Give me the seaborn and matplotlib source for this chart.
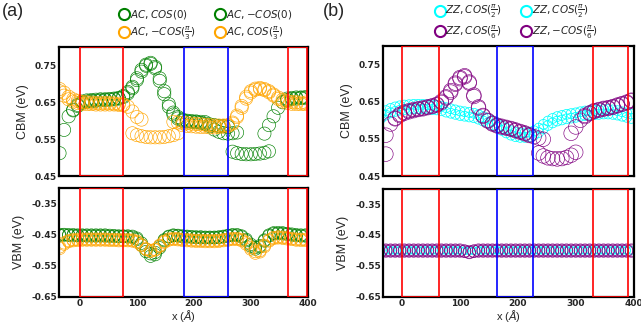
import numpy as np
import pandas as pd
import matplotlib
matplotlib.use('Agg')
import matplotlib.pyplot as plt
import seaborn as sns
from matplotlib.patches import Rectangle
from matplotlib.lines import Line2D

sns.set_style('white')
plt.rcParams['font.family'] = ['DejaVu Sans']
plt.rcParams['axes.unicode_minus'] = False

nan = np.nan
x = np.arange(-36, 400, 8)   # sampling positions along the ribbon (Angstrom)

# ---- panel (a), armchair ----
ac_cos0_cbm = [nan, 0.575, 0.612, 0.630, 0.643, 0.652, 0.655, 0.656, 0.657, 0.658, 0.658,
               0.659, 0.660, 0.662, 0.667, 0.678, 0.692, 0.715, 0.738, 0.752, 0.757, 0.742,
               0.708, 0.672, 0.638, 0.617, 0.606, 0.600, 0.598, 0.597, 0.596, 0.594, 0.592,
               0.590, 0.588, 0.586, 0.585, 0.583, 0.516, 0.512, 0.510, 0.509, 0.509, 0.510,
               0.511, 0.513, 0.517, nan, nan, nan, 0.660, 0.662, 0.663, 0.663, 0.664]
ac_mcos0_cbm = [0.512, nan, nan, 0.628, 0.640, 0.649, 0.652, 0.653, 0.654, 0.655, 0.656,
                0.657, 0.658, 0.660, 0.664, 0.674, 0.688, 0.710, 0.733, 0.749, 0.754, 0.746,
                0.715, 0.680, 0.645, 0.622, 0.610, 0.603, 0.600, 0.599, 0.598, 0.597, 0.596,
                0.585, 0.576, 0.570, 0.566, 0.565, 0.566, 0.568, nan, nan, nan, nan,
                nan, 0.565, 0.588, 0.612, 0.635, 0.650, 0.656, 0.659, 0.660, 0.661, 0.661]
ac_mcos3_cbm = [0.686, 0.676, 0.665, 0.658, 0.654, 0.651, 0.650, 0.649, 0.648, 0.648, 0.648,
                0.648, 0.647, 0.646, 0.644, 0.638, 0.625, 0.610, 0.603, nan, nan, nan,
                nan, nan, nan, 0.597, 0.595, 0.594, 0.593, 0.592, 0.591, 0.590, 0.589,
                0.588, 0.587, 0.587, 0.587, 0.588, 0.595, 0.614, 0.640, 0.665, 0.680, 0.687,
                0.689, 0.686, 0.680, 0.671, 0.663, 0.657, 0.653, 0.651, 0.650, 0.649, 0.649]
ac_cos3_cbm = [0.680, 0.668, 0.658, 0.652, 0.648, 0.646, 0.645, 0.645, 0.644, 0.644, 0.644,
               0.644, 0.644, 0.643, 0.642, nan, 0.566, 0.561, 0.558, 0.556, 0.555, 0.555,
               0.555, 0.556, 0.558, 0.561, 0.566, 0.588, 0.586, 0.585, 0.584, 0.583, 0.583,
               0.582, 0.582, 0.583, 0.584, 0.586, 0.592, 0.610, 0.635, 0.660, 0.676, 0.684,
               0.686, 0.683, 0.677, 0.668, 0.659, 0.652, 0.648, 0.646, 0.645, 0.645, 0.645]

ac_cos0_vbm = [-0.450, -0.450, -0.451, -0.451, -0.452, -0.452, -0.452, -0.452, -0.452, -0.452, -0.452,
               -0.453, -0.454, -0.455, -0.455, -0.455, -0.456, -0.462, -0.478, -0.498, -0.512, -0.508,
               -0.488, -0.467, -0.456, -0.452, -0.453, -0.455, -0.456, -0.457, -0.458, -0.458, -0.459,
               -0.459, -0.459, -0.458, -0.456, -0.453, -0.451, -0.451, -0.455, -0.466, -0.482, -0.492,
               -0.486, -0.468, -0.452, -0.445, -0.444, -0.445, -0.447, -0.449, -0.451, -0.452, -0.452]
ac_mcos0_vbm = [-0.453, -0.452, -0.453, -0.454, -0.454, -0.454, -0.455, -0.455, -0.455, -0.455, -0.455,
                -0.456, -0.456, -0.457, -0.457, -0.458, -0.459, -0.466, -0.484, -0.505, -0.520, -0.515,
                -0.493, -0.470, -0.458, -0.454, -0.455, -0.457, -0.458, -0.459, -0.460, -0.461, -0.461,
                -0.461, -0.461, -0.460, -0.458, -0.455, -0.453, -0.453, -0.458, -0.470, -0.487, -0.497,
                -0.490, -0.471, -0.455, -0.448, -0.447, -0.448, -0.450, -0.452, -0.454, -0.455, -0.455]
ac_mcos3_vbm = [-0.490, -0.477, -0.470, -0.467, -0.466, -0.465, -0.465, -0.465, -0.465, -0.465, -0.465,
                -0.466, -0.466, -0.467, -0.467, -0.467, -0.468, -0.472, -0.483, -0.496, -0.502, -0.498,
                -0.485, -0.472, -0.465, -0.463, -0.464, -0.466, -0.467, -0.468, -0.469, -0.469, -0.470,
                -0.470, -0.470, -0.469, -0.467, -0.465, -0.463, -0.463, -0.466, -0.476, -0.492, -0.505,
                -0.502, -0.485, -0.468, -0.460, -0.458, -0.459, -0.461, -0.463, -0.465, -0.466, -0.466]
ac_cos3_vbm = [-0.495, -0.481, -0.473, -0.470, -0.469, -0.468, -0.468, -0.468, -0.468, -0.468, -0.468,
               -0.469, -0.469, -0.470, -0.470, -0.470, -0.471, -0.475, -0.486, -0.498, -0.504, -0.500,
               -0.488, -0.475, -0.468, -0.466, -0.467, -0.469, -0.470, -0.471, -0.472, -0.472, -0.473,
               -0.473, -0.473, -0.472, -0.470, -0.468, -0.466, -0.466, -0.470, -0.481, -0.497, -0.510,
               -0.506, -0.489, -0.471, -0.463, -0.461, -0.462, -0.464, -0.466, -0.468, -0.469, -0.469]

# ---- panel (b), zigzag ----
zz_cos2a_cbm = [0.618, 0.626, 0.632, 0.636, 0.639, 0.641, 0.642, 0.643, 0.643, 0.643, 0.642,
                0.641, 0.640, 0.638, 0.634, 0.631, 0.628, 0.625, 0.623, 0.621, 0.619, 0.615,
                0.610, 0.605, 0.599, 0.593, 0.585, 0.578, 0.572, 0.568, 0.566, 0.566, 0.568,
                0.572, 0.579, 0.589, 0.598, 0.605, 0.610, 0.613, 0.616, 0.618, 0.620, 0.623,
                0.625, 0.626, 0.627, 0.628, 0.629, 0.629, 0.628, 0.626, 0.623, 0.620, 0.617]
zz_cos2b_cbm = [0.606, 0.614, 0.620, 0.624, 0.627, 0.629, 0.630, 0.631, 0.631, 0.631, 0.630,
                0.629, 0.628, 0.626, 0.622, 0.619, 0.616, 0.613, 0.611, 0.609, 0.607, 0.603,
                0.598, 0.593, 0.587, 0.581, 0.573, 0.566, 0.560, 0.556, 0.554, 0.554, 0.556,
                0.560, 0.567, 0.577, 0.586, 0.593, 0.598, 0.601, 0.604, 0.606, 0.608, 0.611,
                0.613, 0.614, 0.615, 0.616, 0.617, 0.617, 0.616, 0.614, 0.611, 0.608, 0.605]
zz_cos6_cbm = [nan, 0.509, nan, 0.606, 0.616, 0.622, 0.626, 0.629, 0.631, 0.633, 0.636,
               0.639, 0.643, 0.651, 0.663, 0.680, 0.700, 0.715, 0.720, 0.703, 0.668, 0.636,
               0.613, 0.600, 0.592, 0.587, 0.584, 0.581, 0.578, 0.574, 0.570, 0.566, 0.561,
               0.556, 0.552, 0.549, nan, nan, nan, nan, nan, 0.565, 0.582, 0.600,
               0.613, 0.620, 0.626, 0.629, 0.632, 0.634, 0.637, 0.641, 0.645, 0.649, 0.654]
zz_mcos6_cbm = [nan, 0.560, 0.590, 0.604, 0.613, 0.619, 0.623, 0.626, 0.629, 0.631, 0.634,
                0.637, 0.641, 0.648, 0.660, 0.676, 0.697, 0.712, 0.717, 0.700, 0.664, 0.633,
                0.611, 0.598, 0.590, 0.585, 0.582, 0.579, 0.576, 0.572, 0.568, 0.564, 0.559,
                nan, 0.512, 0.504, 0.499, 0.497, 0.496, 0.497, 0.500, 0.506, 0.514, nan,
                0.610, 0.618, 0.624, 0.627, 0.630, 0.632, 0.635, 0.639, 0.643, 0.647, 0.652]

zz_cos2a_vbm = [-0.499, -0.499, -0.499, -0.499, -0.499, -0.499, -0.499, -0.499, -0.499, -0.499, -0.499,
                -0.499, -0.499, -0.499, -0.499, -0.499, -0.499, -0.499, -0.501, -0.503, -0.501, -0.499,
                -0.499, -0.499, -0.499, -0.499, -0.499, -0.499, -0.499, -0.499, -0.499, -0.499, -0.499,
                -0.499, -0.499, -0.499, -0.499, -0.499, -0.499, -0.499, -0.499, -0.499, -0.499, -0.499,
                -0.499, -0.499, -0.499, -0.499, -0.499, -0.499, -0.499, -0.499, -0.499, -0.499, -0.499]
zz_cos2b_vbm = [-0.501, -0.501, -0.501, -0.501, -0.501, -0.501, -0.501, -0.501, -0.501, -0.501, -0.501,
                -0.501, -0.501, -0.501, -0.501, -0.501, -0.501, -0.501, -0.501, -0.500, -0.501, -0.501,
                -0.501, -0.501, -0.501, -0.501, -0.501, -0.501, -0.501, -0.501, -0.501, -0.501, -0.501,
                -0.501, -0.501, -0.501, -0.501, -0.501, -0.501, -0.501, -0.501, -0.501, -0.501, -0.501,
                -0.501, -0.501, -0.501, -0.501, -0.501, -0.501, -0.501, -0.501, -0.501, -0.501, -0.501]
zz_cos6_vbm = [-0.499, -0.499, -0.499, -0.499, -0.499, -0.499, -0.499, -0.499, -0.499, -0.499, -0.499,
               -0.499, -0.499, -0.499, -0.499, -0.499, -0.499, -0.499, -0.503, -0.507, -0.503, -0.499,
               -0.499, -0.499, -0.499, -0.499, -0.499, -0.499, -0.499, -0.499, -0.499, -0.499, -0.499,
               -0.499, -0.499, -0.499, -0.499, -0.499, -0.499, -0.499, -0.499, -0.499, -0.499, -0.499,
               -0.499, -0.499, -0.499, -0.499, -0.499, -0.499, -0.499, -0.499, -0.499, -0.499, -0.499]
zz_mcos6_vbm = [-0.502, -0.502, -0.502, -0.502, -0.502, -0.502, -0.502, -0.502, -0.502, -0.502, -0.502,
                -0.502, -0.502, -0.502, -0.502, -0.502, -0.502, -0.502, -0.502, -0.505, -0.502, -0.502,
                -0.502, -0.502, -0.502, -0.502, -0.502, -0.502, -0.502, -0.502, -0.502, -0.502, -0.502,
                -0.502, -0.502, -0.502, -0.502, -0.502, -0.502, -0.502, -0.502, -0.502, -0.502, -0.502,
                -0.502, -0.502, -0.502, -0.502, -0.502, -0.502, -0.502, -0.502, -0.502, -0.502, -0.502]

# boxed regions (x range) drawn on every panel
a_box_lo = [0, 182, 365]
a_box_hi = [75, 260, 398]
b_box_lo = [0, 164, 329]
b_box_hi = [63, 226, 390]
box_colors = ['red', 'blue', 'red']

cbm_ticks = [0.45, 0.55, 0.65, 0.75]
vbm_ticks = [-0.65, -0.55, -0.45, -0.35]
x_ticks = [0, 100, 200, 300, 400]


def rings(ax, yvals, color, s, lw=0.45):
    df = pd.DataFrame({'x': x, 'y': yvals}).dropna()
    sns.scatterplot(data=df, x='x', y='y', ax=ax, s=s, color=color, linewidth=lw)
    pc = ax.collections[-1]
    pc.set_facecolor('none')
    pc.set_edgecolor(color)


def style(ax, ylim, yticks, ylabel, xlim, lo, hi, bottom):
    ax.set_xlim(xlim)
    ax.set_ylim(ylim)
    for a, b, c in zip(lo, hi, box_colors):
        ax.add_patch(Rectangle((a, ylim[0]), b - a, ylim[1] - ylim[0], fill=False,
                               edgecolor=c, lw=1.2, zorder=4))
    ax.set_yticks(yticks)
    ax.set_xticks(x_ticks)
    ax.tick_params(direction='in', length=2.5, width=0.8, labelsize=6.5, pad=1.5)
    for lab in ax.get_xticklabels() + ax.get_yticklabels():
        lab.set_fontweight('bold')
    ax.set_ylabel(ylabel, fontsize=9, family='Liberation Sans', labelpad=4)
    if bottom:
        ax.set_xlabel(r'x ($\mathit{\AA}$)', fontsize=8, family='Liberation Sans', labelpad=0.5)
    else:
        ax.set_xlabel('')
        ax.set_xticklabels([])
    for sp in ax.spines.values():
        sp.set_linewidth(1.6)
        sp.set_color('black')


fig = plt.figure(figsize=(6.41, 3.26), dpi=100)
ax_a1 = fig.add_axes([0.092, 0.460, 0.388, 0.396])
ax_a2 = fig.add_axes([0.092, 0.090, 0.388, 0.334])
ax_b1 = fig.add_axes([0.5975, 0.460, 0.391, 0.399])
ax_b2 = fig.add_axes([0.5975, 0.090, 0.391, 0.331])

rings(ax_a1, ac_cos0_cbm, 'green', 90)
rings(ax_a1, ac_mcos0_cbm, 'green', 90)
rings(ax_a1, ac_mcos3_cbm, 'orange', 90)
rings(ax_a1, ac_cos3_cbm, 'orange', 90)
rings(ax_a2, ac_cos0_vbm, 'green', 80)
rings(ax_a2, ac_mcos0_vbm, 'green', 80)
rings(ax_a2, ac_mcos3_vbm, 'orange', 80)
rings(ax_a2, ac_cos3_vbm, 'orange', 80)

rings(ax_b1, zz_cos2a_cbm, 'cyan', 50, 0.55)
rings(ax_b1, zz_cos2b_cbm, 'cyan', 50, 0.55)
rings(ax_b1, zz_cos6_cbm, 'purple', 110)
rings(ax_b1, zz_mcos6_cbm, 'purple', 110)
rings(ax_b2, zz_cos2a_vbm, 'cyan', 30)
rings(ax_b2, zz_cos2b_vbm, 'cyan', 30)
rings(ax_b2, zz_cos6_vbm, 'purple', 80)
rings(ax_b2, zz_mcos6_vbm, 'purple', 80)

style(ax_a1, (0.45, 0.80), cbm_ticks, 'CBM (eV)', (-37, 400), a_box_lo, a_box_hi, False)
style(ax_a2, (-0.65, -0.30), vbm_ticks, 'VBM (eV)', (-37, 400), a_box_lo, a_box_hi, True)
style(ax_b1, (0.45, 0.80), cbm_ticks, 'CBM (eV)', (-33, 400), b_box_lo, b_box_hi, False)
style(ax_b2, (-0.65, -0.30), vbm_ticks, 'VBM (eV)', (-33, 400), b_box_lo, b_box_hi, True)


def ring_handle(c):
    return Line2D([], [], marker='o', ls='', mfc='none', mec=c, mew=1.5, ms=8)


a_labels = [r'$AC,COS(0)$', r'$AC,{-}COS(\frac{\pi}{3})$',
            r'$AC,{-}COS(0)$', r'$AC,COS(\frac{\pi}{3})$']
a_colors = ['green', 'orange', 'green', 'orange']
b_labels = [r'$ZZ,COS(\frac{\pi}{2})$', r'$ZZ,COS(\frac{\pi}{6})$',
            r'$ZZ,COS(\frac{\pi}{2})$', r'$ZZ,{-}COS(\frac{\pi}{6})$']
b_colors = ['cyan', 'purple', 'cyan', 'purple']

ax_a1.legend([ring_handle(c) for c in a_colors], a_labels, ncol=2, loc='lower center',
             bbox_to_anchor=(0.59, 0.99), frameon=False, fontsize=7.5, handletextpad=0.05,
             columnspacing=1.8, labelspacing=0.35, borderpad=0.1, handlelength=1.0)
ax_b1.legend([ring_handle(c) for c in b_colors], b_labels, ncol=2, loc='lower center',
             bbox_to_anchor=(0.53, 0.99), frameon=False, fontsize=7.5, handletextpad=0.05,
             columnspacing=1.8, labelspacing=0.35, borderpad=0.1, handlelength=1.0)

fig.text(0.003, 0.99, '(a)', fontsize=13, va='top', family='Liberation Sans')
fig.text(0.503, 0.99, '(b)', fontsize=13, va='top', family='Liberation Sans')

fig.savefig('out.png', dpi=100)
